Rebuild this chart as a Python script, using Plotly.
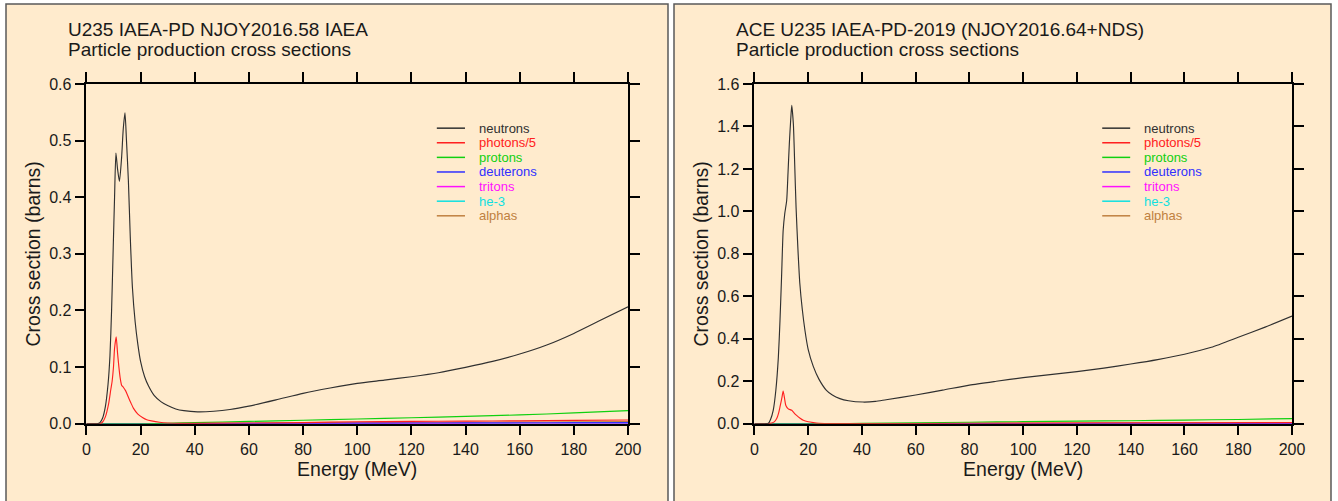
import plotly.graph_objects as go

# ---------------- data ----------------
series_names = ["neutrons", "photons/5", "protons", "deuterons", "tritons", "he-3", "alphas"]
series_colors = ["#303030", "#ff2020", "#10d010", "#3030ff", "#ff10ff", "#10e0e0", "#c08040"]

# Left panel: U235 IAEA-PD NJOY2016.58 IAEA
left_neutron_e = [0, 4, 5, 6, 7, 8, 8.7, 9.3, 9.9, 10.4, 10.9, 11.5, 12.2, 13, 13.6, 14.25,
                  14.8, 15.5, 16.2, 17, 18, 19, 20, 21.5, 23, 25, 27.5, 30, 33, 36, 41,
                  47, 53, 60, 70, 80, 90, 100, 110, 120, 130, 140, 150, 160, 170,
                  180, 190, 200]
left_neutron_xs = [0, 0, 0.002, 0.01, 0.03, 0.07, 0.12, 0.2, 0.31, 0.40, 0.478, 0.45, 0.428,
                   0.47, 0.52, 0.549, 0.5, 0.43, 0.33, 0.24, 0.18, 0.14, 0.11, 0.083,
                   0.066, 0.05, 0.039, 0.032, 0.026, 0.023, 0.021, 0.022, 0.025,
                   0.031, 0.042, 0.0536, 0.063, 0.0713, 0.077, 0.083, 0.09, 0.0995, 0.11,
                   0.123, 0.139, 0.1595, 0.183, 0.2065]

left_photon_e = [0, 5, 6, 7, 8.2, 9, 9.5, 10, 10.4, 11.0, 11.5, 12.0, 12.5, 13.0, 13.7,
                 14.5, 15.4, 16.4, 17.4, 19, 20.7, 22.3, 24, 27, 30, 35, 40, 60, 80, 100,
                 120, 140, 160, 180, 200]
left_photon_xs = [0, 0, 0.003, 0.012, 0.035, 0.06, 0.075, 0.1, 0.133, 0.1535, 0.125, 0.1,
                  0.08, 0.068, 0.064, 0.058, 0.048, 0.037, 0.027, 0.017, 0.011, 0.007,
                  0.005, 0.0025, 0.0012, 0.0006, 0.0006, 0.0012, 0.002, 0.0035, 0.004,
                  0.0045, 0.005, 0.0058, 0.0065]

light_e = [0, 20, 30, 40, 60, 80, 100, 120, 140, 160, 180, 200]
left_proton_xs = [0, 0, 0.0008, 0.002, 0.004, 0.006, 0.0083, 0.0105, 0.013, 0.0155, 0.019, 0.023]
left_deuteron_xs = [0, 0, 0, 0.0002, 0.0005, 0.0008, 0.001, 0.0012, 0.0014, 0.0016, 0.0018, 0.002]
left_triton_xs = [0, 0, 0, 0.0001, 0.0002, 0.0003, 0.0005, 0.0006, 0.0007, 0.0008, 0.0009, 0.001]
left_he3_xs = [0, 0, 0, 0, 0.0001, 0.0001, 0.0001, 0.0002, 0.0002, 0.0002, 0.0003, 0.0003]
left_alpha_xs = [0, 0, 0.0002, 0.0004, 0.0008, 0.0012, 0.0016, 0.002, 0.0024, 0.0028, 0.0032, 0.0036]

# Right panel: ACE U235 IAEA-PD-2019 (NJOY2016.64+NDS)
right_neutron_e = [0, 4, 5.2, 6, 7, 8, 8.9, 9.5, 10.1, 10.7, 11.3, 12, 12.5, 13, 13.5, 13.9,
                   14.5, 15, 15.5, 16.2, 16.9, 17.8, 18.8, 20, 21.9, 24, 26.8, 29, 31.8, 35,
                   40.4, 45, 49, 60, 70, 80, 90, 100, 110, 120, 130, 140, 150, 160, 170,
                   180, 190, 200]
right_neutron_xs = [0, 0, 0.002, 0.02, 0.063, 0.16, 0.31, 0.48, 0.69, 0.91, 0.99, 1.05, 1.18,
                    1.32, 1.43, 1.50, 1.41, 1.22, 1.02, 0.82, 0.66, 0.54, 0.44, 0.35, 0.27,
                    0.21, 0.157, 0.135, 0.118, 0.108, 0.102, 0.105, 0.113, 0.135, 0.158,
                    0.182, 0.2, 0.217, 0.231, 0.245, 0.262, 0.281, 0.302, 0.327, 0.36,
                    0.407, 0.455, 0.507]

right_photon_e = [0, 5, 6.4, 7.5, 8.3, 9, 9.5, 10.2, 10.7, 11.2, 11.7, 12.6, 13.9, 14.8,
                  15.7, 17, 18.2, 20, 21.9, 24, 26, 30, 40, 60, 100, 150, 200]
right_photon_xs = [0, 0, 0.003, 0.01, 0.024, 0.05, 0.078, 0.12, 0.154, 0.12, 0.086, 0.07,
                   0.063, 0.05, 0.039, 0.026, 0.016, 0.009, 0.005, 0.002, 0.001, 0.0005,
                   0.0005, 0.001, 0.003, 0.004, 0.005]

right_proton_xs = [0, 0, 0.0005, 0.0015, 0.004, 0.007, 0.0095, 0.012, 0.014, 0.017, 0.02, 0.024]
right_deuteron_xs = left_deuteron_xs
right_triton_xs = left_triton_xs
right_he3_xs = left_he3_xs
right_alpha_xs = left_alpha_xs

x_ticks = [0, 20, 40, 60, 80, 100, 120, 140, 160, 180, 200]
left_y_ticks = [0.0, 0.1, 0.2, 0.3, 0.4, 0.5, 0.6]
right_y_ticks = [0.0, 0.2, 0.4, 0.6, 0.8, 1.0, 1.2, 1.4, 1.6]

left_title = ["U235 IAEA-PD NJOY2016.58 IAEA", "Particle production cross sections"]
right_title = ["ACE U235 IAEA-PD-2019 (NJOY2016.64+NDS)", "Particle production cross sections"]

# ---------------- layout constants ----------------
W, H = 1338, 501
FONT = "Liberation Sans, Arial, sans-serif"
TEXT = "#1a1a1a"
PANEL_BG = "#ffebcd"
PLOT_BG = "#f9ead6"


def px(v):
    return v / W


def py(v):
    return 1 - v / H


fig = go.Figure()

panels = [
    dict(xa="x", ya="y",
         neutron=(left_neutron_e, left_neutron_xs), photon=(left_photon_e, left_photon_xs),
         light=[left_proton_xs, left_deuteron_xs, left_triton_xs, left_he3_xs, left_alpha_xs]),
    dict(xa="x2", ya="y2",
         neutron=(right_neutron_e, right_neutron_xs), photon=(right_photon_e, right_photon_xs),
         light=[right_proton_xs, right_deuteron_xs, right_triton_xs, right_he3_xs, right_alpha_xs]),
]

for p in panels:
    curves = [p["neutron"], p["photon"]] + [(light_e, ys) for ys in p["light"]]
    # light particles underneath, neutrons/photons on top
    for i in [6, 5, 4, 3, 2, 1, 0]:
        xs, ys = curves[i]
        fig.add_trace(go.Scatter(
            x=xs, y=ys, mode="lines", name=series_names[i],
            line=dict(color=series_colors[i], width=1.15, shape="spline", smoothing=0.6),
            xaxis=p["xa"], yaxis=p["ya"], showlegend=False, hoverinfo="skip"))

# panel backgrounds with frames
shapes = []
for x0, x1 in [(6, 668), (674, 1331)]:
    shapes.append(dict(type="rect", xref="paper", yref="paper", layer="below",
                       x0=px(x0), x1=px(x1), y0=-0.01, y1=py(4),
                       fillcolor=PANEL_BG, line=dict(color="#5a5a5a", width=1.5)))

annotations = []
for lines, x in [(left_title, 60 + 6), (right_title, 60 + 674)]:
    for text, yc in zip(lines, [29.7, 49.5]):
        annotations.append(dict(text=text, xref="paper", yref="paper", x=px(x), y=py(yc),
                                xanchor="left", yanchor="middle", align="left", showarrow=False,
                                font=dict(family=FONT, size=19, color=TEXT)))

# in-plot legend
for p in panels:
    xr = p["xa"] + " domain"
    yr = p["ya"] + " domain"
    for k, (name, col) in enumerate(zip(series_names, series_colors)):
        yk = 0.870 - k * 0.0430
        shapes.append(dict(type="line", xref=xr, yref=yr, x0=0.647, x1=0.699, y0=yk, y1=yk,
                           line=dict(color=col, width=1.5)))
        annotations.append(dict(text=name, xref=xr, yref=yr, x=0.721, y=yk,
                                xanchor="left", yanchor="middle", showarrow=False,
                                font=dict(family=FONT, size=13, color=col)))

axis_common = dict(showline=True, linecolor="black", linewidth=1.5, mirror="ticks",
                   ticks="outside", ticklen=10, tickwidth=1.5, tickcolor="black",
                   showgrid=False, zeroline=False, automargin=False,
                   tickfont=dict(family=FONT, size=16, color=TEXT))

title_font = dict(family=FONT, size=19.5, color=TEXT)

xdom_left = [px(86.4), px(628)]
xdom_right = [px(754.4), px(1292)]
ydom = [py(423.7), py(84)]

fig.update_layout(
    width=W, height=H, autosize=False,
    margin=dict(l=0, r=0, t=0, b=0, pad=0, autoexpand=False),
    paper_bgcolor="white", plot_bgcolor=PLOT_BG, showlegend=False,
    shapes=shapes, annotations=annotations,
    xaxis=dict(domain=xdom_left, range=[0, 200], tickvals=x_ticks, anchor="y",
               title=dict(text="Energy (MeV)", font=title_font, standoff=6),
               **axis_common),
    yaxis=dict(domain=ydom, range=[0, 0.6], tickvals=left_y_ticks, tickformat=".1f", anchor="x",
               title=dict(text="Cross section (barns)", font=title_font, standoff=3),
               **axis_common),
    xaxis2=dict(domain=xdom_right, range=[0, 200], tickvals=x_ticks, anchor="y2",
                title=dict(text="Energy (MeV)", font=title_font, standoff=6),
                **axis_common),
    yaxis2=dict(domain=ydom, range=[0, 1.6], tickvals=right_y_ticks, tickformat=".1f", anchor="x2",
                title=dict(text="Cross section (barns)", font=title_font, standoff=3),
                **axis_common),
)

# keep the figure flush with the page corner
fig.write_html("out.html",
               post_script="document.body.style.margin='0';document.body.style.overflow='hidden';")
